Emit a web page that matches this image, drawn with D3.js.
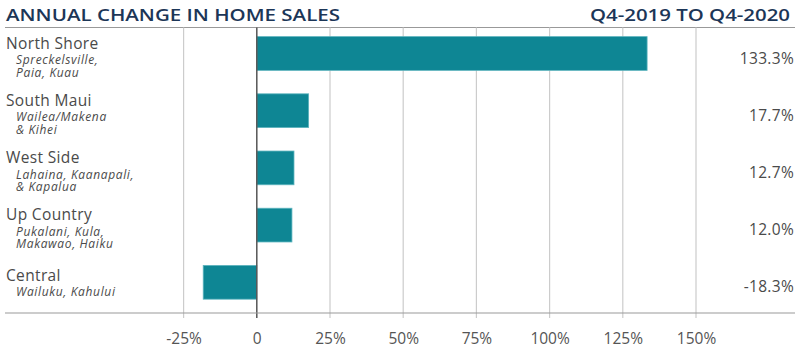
<!DOCTYPE html>
<html>
<head>
<meta charset="utf-8">
<script src="https://cdn.jsdelivr.net/npm/d3@7"></script>
<style>
  html, body { margin: 0; padding: 0; background: #fff; }
  svg { display: block; font-family: "Open Sans", Lato, sans-serif; }
</style>
</head>
<body>
<svg id="chart" width="800" height="349"></svg>
<script>
const title = "ANNUAL CHANGE IN HOME SALES";
const subtitle = "Q4-2019 TO Q4-2020";
const regions = ["North Shore", "South Maui", "West Side", "Up Country", "Central"];
const subLabels = [
  ["Spreckelsville,", "Paia, Kuau"],
  ["Wailea/Makena", "& Kihei"],
  ["Lahaina, Kaanapali,", "& Kapalua"],
  ["Pukalani, Kula,", "Makawao, Haiku"],
  ["Wailuku, Kahului"]
];
const values = [133.3, 17.7, 12.7, 12.0, -18.3];
const valueLabels = ["133.3%", "17.7%", "12.7%", "12.0%", "-18.3%"];
const tickValues = [-25, 0, 25, 50, 75, 100, 125, 150];
const tickLabels = ["-25%", "0", "25%", "50%", "75%", "100%", "125%", "150%"];

const svg = d3.select("#chart");

const x = d3.scaleLinear().domain([-25, 150]).range([183.6, 696]);
const y = d3.scaleBand().domain(regions).range([24.9, 310.9])
  .paddingInner(0.41).paddingOuter(0.205);

const topY = 27.5, bottomY = 313;

// Title
svg.append("text").attr("x", 6).attr("y", 20.5)
  .attr("fill", "#1c3657").attr("font-size", 16.5).attr("font-weight", 600)
  .attr("textLength", 334).attr("lengthAdjust", "spacingAndGlyphs")
  .text(title);
svg.append("text").attr("x", 790).attr("y", 20.5).attr("text-anchor", "end")
  .attr("fill", "#1c3657").attr("font-size", 16.5).attr("font-weight", 600)
  .attr("textLength", 200).attr("lengthAdjust", "spacingAndGlyphs")
  .text(subtitle);

// Top rule
svg.append("line").attr("x1", 5).attr("x2", 795).attr("y1", topY).attr("y2", topY)
  .attr("stroke", "#999").attr("stroke-width", 1.2);

// Grid lines
svg.append("g").selectAll("line").data(tickValues.filter(d => d !== 0)).join("line")
  .attr("x1", d => x(d)).attr("x2", d => x(d))
  .attr("y1", topY).attr("y2", bottomY + 5)
  .attr("stroke", "#cccccc").attr("stroke-width", 1.2);

// Bars
svg.append("g").selectAll("rect").data(values).join("rect")
  .attr("x", d => x(Math.min(0, d)))
  .attr("width", d => Math.abs(x(d) - x(0)))
  .attr("y", (d, i) => y(regions[i]))
  .attr("height", y.bandwidth())
  .attr("fill", "#0e8694")
  .attr("stroke", "#5db4be").attr("stroke-width", 0.8);

// Zero line
svg.append("line").attr("x1", x(0)).attr("x2", x(0))
  .attr("y1", topY).attr("y2", bottomY + 5)
  .attr("stroke", "#555").attr("stroke-width", 1.5);

// Bottom axis
const axis = d3.axisBottom(x).tickValues(tickValues)
  .tickFormat((d, i) => tickLabels[i]).tickSize(0).tickPadding(0);
const gAxis = svg.append("g").attr("transform", `translate(0,${bottomY})`).call(axis);
gAxis.select(".domain").remove();
gAxis.selectAll("text").attr("font-size", 15.5).attr("fill", "#555")
  .attr("font-family", "'Open Sans', sans-serif").attr("dy", null).attr("y", 31);
svg.append("line").attr("x1", 5).attr("x2", 795).attr("y1", bottomY).attr("y2", bottomY)
  .attr("stroke", "#999").attr("stroke-width", 1.2);

// Row labels (one text block per row)
const rows = svg.append("g").selectAll("g").data(regions).join("g");
rows.each(function(r, i) {
  const g = d3.select(this);
  const c = y(r) + y.bandwidth() / 2;
  const n = subLabels[i].length;
  const base = c + 2 - n * 3.4;
  const t = g.append("text").attr("fill", "#4a4a4a");
  t.append("tspan").attr("x", 6).attr("y", base).attr("font-size", 15.5)
    .attr("letter-spacing", 0.35).text(r);
  subLabels[i].forEach((s, j) => {
    t.append("tspan").attr("x", 16).attr("y", base + 15.5 + j * 12.4)
      .attr("font-size", 12).attr("font-style", "italic")
      .attr("letter-spacing", 0.65).text(s);
  });
  g.append("text").attr("x", 794).attr("y", c + 10).attr("text-anchor", "end")
    .attr("font-size", 15.5).attr("letter-spacing", 0.3).attr("fill", "#4a4a4a").text(valueLabels[i]);
});
</script>
</body>
</html>
